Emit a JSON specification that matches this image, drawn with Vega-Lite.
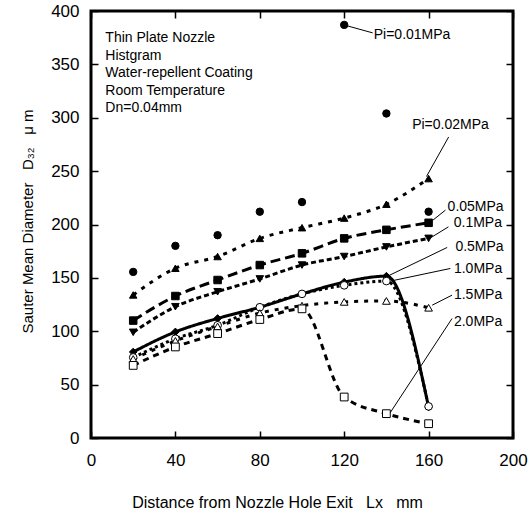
{
  "$schema": "https://vega.github.io/schema/vega-lite/v6.json",
  "width": 422,
  "height": 427,
  "autosize": {"type": "none"},
  "padding": {"left": 91, "top": 11, "right": 19, "bottom": 72},
  "config": {
    "view": {"stroke": "black", "strokeWidth": 3},
    "font": "Liberation Sans",
    "axis": {"grid": false, "domain": false, "tickColor": "black", "tickWidth": 1.5, "labelColor": "black", "titleColor": "black", "titleFontWeight": "normal", "labelFont": "Liberation Sans", "titleFont": "Liberation Sans"}
  },
  "datasets": {
    "series": [
      {"series": "0.01", "x": 20, "y": 155.6}, {"series": "0.01", "x": 40, "y": 180}, {"series": "0.01", "x": 60, "y": 190}, {"series": "0.01", "x": 80, "y": 212}, {"series": "0.01", "x": 100, "y": 221}, {"series": "0.01", "x": 120, "y": 387}, {"series": "0.01", "x": 140, "y": 304}, {"series": "0.01", "x": 160, "y": 212},
      {"series": "0.02", "x": 20, "y": 134}, {"series": "0.02", "x": 40, "y": 159}, {"series": "0.02", "x": 60, "y": 170}, {"series": "0.02", "x": 80, "y": 187}, {"series": "0.02", "x": 100, "y": 197}, {"series": "0.02", "x": 120, "y": 206}, {"series": "0.02", "x": 140, "y": 219}, {"series": "0.02", "x": 160, "y": 243},
      {"series": "0.05", "x": 20, "y": 110}, {"series": "0.05", "x": 40, "y": 133}, {"series": "0.05", "x": 60, "y": 148}, {"series": "0.05", "x": 80, "y": 162}, {"series": "0.05", "x": 100, "y": 173}, {"series": "0.05", "x": 120, "y": 187}, {"series": "0.05", "x": 140, "y": 195}, {"series": "0.05", "x": 160, "y": 201.6},
      {"series": "0.1", "x": 20, "y": 99}, {"series": "0.1", "x": 40, "y": 123}, {"series": "0.1", "x": 60, "y": 137}, {"series": "0.1", "x": 80, "y": 149}, {"series": "0.1", "x": 100, "y": 162}, {"series": "0.1", "x": 120, "y": 170}, {"series": "0.1", "x": 140, "y": 179}, {"series": "0.1", "x": 160, "y": 187},
      {"series": "0.5", "x": 20, "y": 80.6}, {"series": "0.5", "x": 40, "y": 99.4}, {"series": "0.5", "x": 60, "y": 112}, {"series": "0.5", "x": 80, "y": 122.5}, {"series": "0.5", "x": 100, "y": 135}, {"series": "0.5", "x": 120, "y": 146}, {"series": "0.5", "x": 140, "y": 151.6}, {"series": "0.5", "x": 160, "y": 29},
      {"series": "1.0", "x": 20, "y": 75.5}, {"series": "1.0", "x": 40, "y": 93}, {"series": "1.0", "x": 60, "y": 105.6}, {"series": "1.0", "x": 80, "y": 122.5}, {"series": "1.0", "x": 100, "y": 135}, {"series": "1.0", "x": 120, "y": 143}, {"series": "1.0", "x": 140, "y": 147}, {"series": "1.0", "x": 160, "y": 29.6},
      {"series": "1.5", "x": 20, "y": 74}, {"series": "1.5", "x": 40, "y": 91}, {"series": "1.5", "x": 60, "y": 104.5}, {"series": "1.5", "x": 80, "y": 117}, {"series": "1.5", "x": 100, "y": 124}, {"series": "1.5", "x": 120, "y": 127.5}, {"series": "1.5", "x": 140, "y": 128.4}, {"series": "1.5", "x": 160, "y": 122},
      {"series": "2.0", "x": 20, "y": 68}, {"series": "2.0", "x": 40, "y": 85.3}, {"series": "2.0", "x": 60, "y": 97.8}, {"series": "2.0", "x": 80, "y": 111}, {"series": "2.0", "x": 100, "y": 121}, {"series": "2.0", "x": 120, "y": 38.4}, {"series": "2.0", "x": 140, "y": 22.8}, {"series": "2.0", "x": 160, "y": 13.4}
    ],
    "labels": [
      {"label": "Pi=0.01MPa", "x": 134, "y": 377.7},
      {"label": "Pi=0.02MPa", "x": 152.2, "y": 293.2},
      {"label": "0.05MPa", "x": 169, "y": 216.6},
      {"label": "0.1MPa", "x": 171.9, "y": 201},
      {"label": "0.5MPa", "x": 172.7, "y": 178.5},
      {"label": "1.0MPa", "x": 172, "y": 158.2},
      {"label": "1.5MPa", "x": 172, "y": 133.8},
      {"label": "2.0MPa", "x": 172, "y": 108.7}
    ],
    "leaders": [
      {"x1": 119.8, "y1": 387, "x2": 133.5, "y2": 379.5},
      {"x1": 169.5, "y1": 282, "x2": 159, "y2": 245},
      {"x1": 168, "y1": 213.5, "x2": 162, "y2": 204},
      {"x1": 169.4, "y1": 197.8, "x2": 160.5, "y2": 187},
      {"x1": 168.8, "y1": 178.5, "x2": 141, "y2": 152},
      {"x1": 170.3, "y1": 158.8, "x2": 142, "y2": 147},
      {"x1": 171.1, "y1": 133.8, "x2": 161.7, "y2": 124.4},
      {"x1": 171.1, "y1": 111.9, "x2": 141.9, "y2": 24}
    ],
    "notes": [
      {"text": "Thin Plate Nozzle\nHistgram\nWater-repellent Coating\nRoom Temperature\n\u00a0Dn=0.04mm", "x": 6.8, "y": 371}
    ]
  },
  "layer": [
    {
      "data": {"name": "series"},
      "transform": [{"filter": "datum.series != '0.01'"}],
      "mark": {"type": "line", "interpolate": "monotone", "color": "black"},
      "encoding": {
        "x": {"field": "x", "type": "quantitative", "scale": {"domain": [0, 200], "nice": false},
          "axis": {"orient": "bottom", "values": [0, 40, 80, 120, 160, 200], "tickSize": -7, "labelPadding": 21, "labelFontSize": 17, "labelFlush": false, "labelOverlap": false,
            "title": "Distance from Nozzle Hole Exit\u00a0\u00a0\u00a0Lx\u00a0\u00a0\u00a0mm", "titleFontSize": 16, "titleX": 186, "titleY": 64, "titleBaseline": "middle", "titleAlign": "center"}},
        "y": {"field": "y", "type": "quantitative", "scale": {"domain": [0, 400], "nice": false},
          "axis": {"orient": "left", "values": [0, 50, 100, 150, 200, 250, 300, 350, 400], "tickSize": -7, "labelPadding": 19, "labelFontSize": 17, "labelFlush": false, "labelOverlap": false,
            "title": "Sauter Mean Diameter\u00a0\u00a0\u00a0D₃₂\u00a0\u00a0\u00a0μ m", "titleFontSize": 15, "titleX": -64, "titleY": 210, "titleAngle": -90, "titleAlign": "center", "titleBaseline": "middle"}},
        "detail": {"field": "series", "type": "nominal"},
        "strokeDash": {"field": "series", "type": "nominal", "scale": {"domain": ["0.02", "0.05", "0.1", "0.5", "1.0", "1.5", "2.0"], "range": [[4, 6], [10, 5], [5, 3], [1, 0], [3, 3], [4, 6], [6, 5]]}, "legend": null},
        "strokeWidth": {"field": "series", "type": "ordinal", "scale": {"domain": ["0.02", "0.05", "0.1", "0.5", "1.0", "1.5", "2.0"], "range": [3, 3, 3, 4, 2.5, 2.5, 3]}, "legend": null}
      }
    },
    {
      "data": {"name": "series"},
      "mark": {"type": "point", "filled": true, "stroke": "black", "strokeWidth": 1, "opacity": 1},
      "encoding": {
        "x": {"field": "x", "type": "quantitative", "axis": {"orient": "top", "values": [0, 40, 80, 120, 160, 200], "tickSize": -7, "labels": false, "title": null}},
        "y": {"field": "y", "type": "quantitative", "axis": {"orient": "right", "values": [0, 50, 100, 150, 200, 250, 300, 350, 400], "tickSize": -7, "labels": false, "title": null}},
        "shape": {"field": "series", "type": "nominal", "scale": {"domain": ["0.01", "0.02", "0.05", "0.1", "0.5", "1.0", "1.5", "2.0"], "range": ["circle", "triangle-up", "square", "triangle-down", "diamond", "circle", "triangle-up", "square"]}, "legend": null},
        "fill": {"field": "series", "type": "nominal", "scale": {"domain": ["0.01", "0.02", "0.05", "0.1", "0.5", "1.0", "1.5", "2.0"], "range": ["black", "black", "black", "black", "black", "white", "white", "white"]}, "legend": null},
        "size": {"field": "series", "type": "ordinal", "scale": {"domain": ["0.01", "0.02", "0.05", "0.1", "0.5", "1.0", "1.5", "2.0"], "range": [55, 60, 70, 60, 45, 60, 60, 70]}, "legend": null}
      }
    },
    {
      "data": {"name": "leaders"},
      "mark": {"type": "rule", "color": "black", "strokeWidth": 1},
      "encoding": {
        "x": {"field": "x1", "type": "quantitative", "axis": null},
        "y": {"field": "y1", "type": "quantitative", "axis": null},
        "x2": {"field": "x2"},
        "y2": {"field": "y2"}
      }
    },
    {
      "data": {"name": "labels"},
      "mark": {"type": "text", "align": "left", "baseline": "middle", "fontSize": 14, "color": "black"},
      "encoding": {
        "x": {"field": "x", "type": "quantitative", "axis": null},
        "y": {"field": "y", "type": "quantitative", "axis": null},
        "text": {"field": "label"}
      }
    },
    {
      "data": {"name": "notes"},
      "mark": {"type": "text", "align": "left", "baseline": "alphabetic", "fontSize": 14, "lineHeight": 17.6, "lineBreak": "\n", "color": "black"},
      "encoding": {
        "x": {"field": "x", "type": "quantitative", "axis": null},
        "y": {"field": "y", "type": "quantitative", "axis": null},
        "text": {"field": "text"}
      }
    }
  ],
  "resolve": {"axis": {"x": "independent", "y": "independent"}}
}
